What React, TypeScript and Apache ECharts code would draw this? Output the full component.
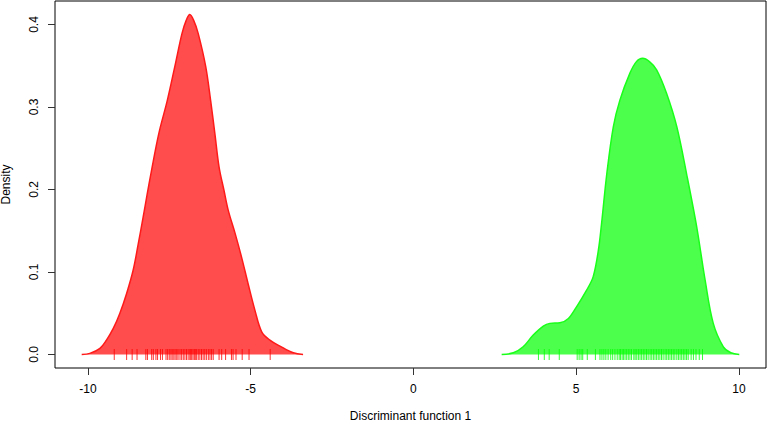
import React, { useEffect, useRef } from "react";
import * as echarts from "echarts";

const redX = [-10.19, -9.94, -9.63, -9.43, -9.22, -9.02, -8.81, -8.61, -8.45, -8.3, -8.18, -8.05, -7.82, -7.56, -7.33, -7.11, -6.98, -6.87, -6.75, -6.61, -6.38, -6.23, -6.1, -5.97, -5.82, -5.69, -5.48, -5.28, -5.08, -4.87, -4.66, -4.41, -4.1, -3.69, -3.39];
const redD = [0, 0.0012, 0.0073, 0.0173, 0.0315, 0.0497, 0.0739, 0.102, 0.1345, 0.167, 0.194, 0.222, 0.268, 0.308, 0.349, 0.389, 0.405, 0.412, 0.405, 0.389, 0.349, 0.308, 0.268, 0.227, 0.199, 0.175, 0.147, 0.118, 0.086, 0.0537, 0.0274, 0.0173, 0.0101, 0.0019, 0];

const greenX = [2.71, 3.07, 3.37, 3.68, 3.99, 4.19, 4.5, 4.76, 5.01, 5.32, 5.52, 5.68, 5.78, 5.94, 6.14, 6.34, 6.65, 6.85, 7.04, 7.25, 7.47, 7.78, 8.09, 8.39, 8.7, 8.96, 9.21, 9.52, 9.75, 10.01];
const greenD = [0, 0.0019, 0.0092, 0.0234, 0.0343, 0.0376, 0.0383, 0.0436, 0.0577, 0.078, 0.094, 0.126, 0.159, 0.219, 0.276, 0.308, 0.341, 0.355, 0.359, 0.355, 0.345, 0.316, 0.276, 0.219, 0.155, 0.09, 0.0376, 0.0092, 0.002, 0];

const redRug = [-9.19, -8.81, -8.64, -8.49, -8.22, -8.17, -8.04, -7.99, -7.91, -7.86, -7.77, -7.71, -7.6, -7.55, -7.5, -7.45, -7.41, -7.36, -7.32, -7.27, -7.23, -7.17, -7.12, -7.07, -7.02, -6.97, -6.92, -6.87, -6.84, -6.81, -6.77, -6.73, -6.7, -6.66, -6.61, -6.56, -6.51, -6.46, -6.41, -6.36, -6.3, -6.25, -6.2, -6.15, -5.97, -5.89, -5.77, -5.59, -5.54, -5.45, -5.26, -5.05, -4.4];
const greenRug = [3.84, 4.02, 4.17, 4.48, 5.03, 5.09, 5.15, 5.2, 5.34, 5.59, 5.73, 5.79, 5.85, 5.91, 5.98, 6.06, 6.12, 6.19, 6.26, 6.32, 6.36, 6.41, 6.45, 6.5, 6.55, 6.6, 6.65, 6.7, 6.77, 6.81, 6.86, 6.91, 6.96, 7.01, 7.06, 7.11, 7.16, 7.21, 7.27, 7.32, 7.37, 7.42, 7.47, 7.52, 7.57, 7.62, 7.67, 7.73, 7.78, 7.83, 7.88, 7.93, 7.98, 8.03, 8.09, 8.14, 8.19, 8.24, 8.29, 8.34, 8.39, 8.44, 8.53, 8.6, 8.68, 8.78, 8.88];

const xTicks = [-10, -5, 0, 5, 10];
const yTicks = [0, 0.1, 0.2, 0.3, 0.4];

const FONT = "'Liberation Sans', Arial, Helvetica, sans-serif";

export default function App() {
  const ref = useRef<HTMLDivElement>(null);
  useEffect(() => {
    document.body.style.margin = "0";
    const chart = echarts.init(ref.current!, null, { renderer: "svg" });
    const densitySeries = (x: number[], d: number[], line: string, fill: string) => ({
      type: "line",
      data: x.map((v, i) => [v, d[i]]),
      smooth: 0.35,
      symbol: "none",
      lineStyle: { color: line, width: 1.5 },
      areaStyle: { color: fill, opacity: 1 },
      z: 2,
    });
    const rugSeries = (r: number[], color: string) => ({
      type: "scatter",
      data: r.map((v) => [v, 0]),
      symbol: "rect",
      symbolSize: [1, 11],
      itemStyle: { color },
      z: 3,
    });
    chart.setOption({
      animation: false,
      grid: {
        left: 55,
        top: 1,
        width: 711,
        height: 367,
        show: true,
        borderColor: "#000",
        borderWidth: 1,
        containLabel: false,
        outerBoundsMode: "none",
      },
      xAxis: {
        type: "value",
        min: -11.01,
        max: 10.83,
        splitLine: { show: false },
        axisLine: { show: false, onZero: false },
        axisTick: {
          show: true,
          length: 7,
          lineStyle: { color: "#333" },
          customValues: xTicks,
        },
        axisLabel: {
          customValues: xTicks,
          margin: 15,
          color: "#000",
          fontSize: 12,
          fontFamily: FONT,
          formatter: (v: number) => String(v),
        },
        name: "Discriminant function 1",
        nameLocation: "middle",
        nameGap: 42,
        nameTextStyle: { color: "#000", fontSize: 12, lineHeight: 12, fontFamily: FONT },
      },
      yAxis: {
        type: "value",
        min: -0.0165,
        max: 0.4285,
        splitLine: { show: false },
        axisLine: { show: false, onZero: false },
        axisTick: {
          show: true,
          length: 7,
          lineStyle: { color: "#333" },
          customValues: yTicks,
        },
        axisLabel: {
          customValues: yTicks,
          rotate: 90,
          margin: 15,
          color: "#000",
          fontSize: 12,
          fontFamily: FONT,
          formatter: (v: number) => v.toFixed(1),
        },
        name: "Density",
        nameLocation: "middle",
        nameGap: 43,
        nameTextStyle: { color: "#000", fontSize: 12, fontFamily: FONT },
      },
      series: [
        densitySeries(redX, redD, "#FF1A1A", "rgba(255,0,0,0.7)"),
        densitySeries(greenX, greenD, "#1AFF1A", "rgba(0,255,0,0.7)"),
        rugSeries(redRug, "#FF0000"),
        rugSeries(greenRug, "#00FF00"),
      ],
    });
    return () => chart.dispose();
  }, []);
  return <div ref={ref} style={{ width: 767, height: 423 }} />;
}
